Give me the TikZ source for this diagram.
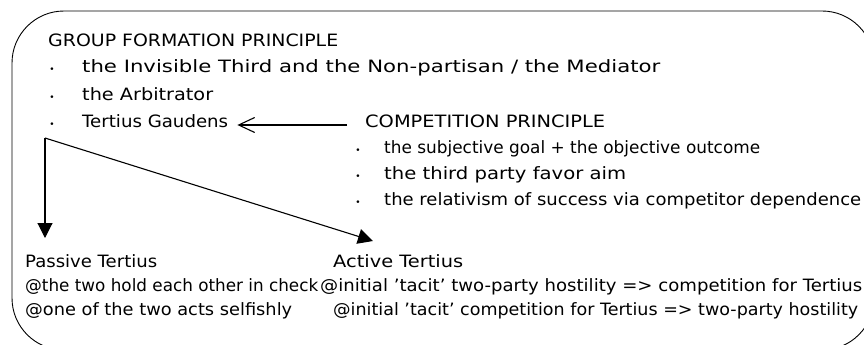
\documentclass[tikz,border=0pt]{standalone}
\usepackage{fontspec}
\setmainfont{DejaVu Sans}
\usetikzlibrary{arrows.meta,positioning,calc}

% stretch a line of text to a given width, height kept
\newcommand{\fitto}[2]{\resizebox{#1}{\height}{#2}}

\begin{document}
\begin{tikzpicture}[
    x=1pt, y=-1pt,
    txt/.style={anchor=base west, inner sep=0pt, font=\fontsize{17}{20}\selectfont},
    bul/.style={anchor=base, inner sep=0pt, font=\fontsize{9}{9}\selectfont},
    frame/.style={draw, line width=0.9pt, rounded corners=52pt},
    link/.style={line width=1.1pt, -{Straight Barb[length=16pt,width=15pt]}},
    fork/.style={line width=1.1pt, -{Triangle[length=15pt,width=15pt]}}
]
\useasboundingbox (0,0) rectangle (864,345);

% Outer frame (runs past the right and bottom edges)
\begin{scope}
\clip (0,0) rectangle (864,345);
\draw[frame] (12,11) rectangle (874,350);
\end{scope}

% Group formation principle
\node[txt] (gfp) at (48,47) {\fitto{290pt}{GROUP FORMATION PRINCIPLE}};
\node[txt] (g1) at (82,73) {\fitto{578pt}{the Invisible Third and the Non-partisan / the Mediator}};
\node[txt] (g2) at (82,100) {\fitto{131pt}{the Arbitrator}};
\node[txt] (tg) at (82,127) {\fitto{146pt}{Tertius Gaudens}};
\foreach \y in {73,100,127}
  \node[bul] (gb\y) at (52,\y) {\textbullet};

% Competition principle
\node[txt] (cp) at (365,127) {\fitto{240pt}{COMPETITION PRINCIPLE}};
\node[txt] (c1) at (384,153) {\fitto{376pt}{the subjective goal + the objective outcome}};
\node[txt] (c2) at (384,179) {\fitto{242pt}{the third party favor aim}};
\node[txt] (c3) at (384,205) {\fitto{477pt}{the relativism of success via competitor dependence}};
\foreach \y in {153,179,205}
  \node[bul] (cb\y) at (358,\y) {\textbullet};

% Passive and active tertius
\node[txt] (pt) at (25,267) {\fitto{132pt}{Passive Tertius}};
\node[txt] (p1) at (25,291) {\fitto{293pt}{@the two hold each other in check}};
\node[txt] (p2) at (25,315) {\fitto{267pt}{@one of the two acts selfishly}};
\node[txt] (at) at (333,267) {\fitto{130pt}{Active Tertius}};
\node[txt] (a1) at (320,291) {\fitto{542pt}{@initial 'tacit' two-party hostility => competition for Tertius}};
\node[txt] (a2) at (333,315) {\fitto{525pt}{@initial 'tacit' competition for Tertius => two-party hostility}};

% Arrows
\coordinate (split) at (45,138);
\coordinate (pastip) at (45,238);
\coordinate (acttip) at (373,241);
\draw[link] ([xshift=-18pt,yshift=2pt]cp.base west) -- ([xshift=9pt,yshift=2pt]tg.base east);
\draw[fork] (split) -- (pastip);
\draw[fork] (split) -- (acttip);

\end{tikzpicture}
\end{document}
